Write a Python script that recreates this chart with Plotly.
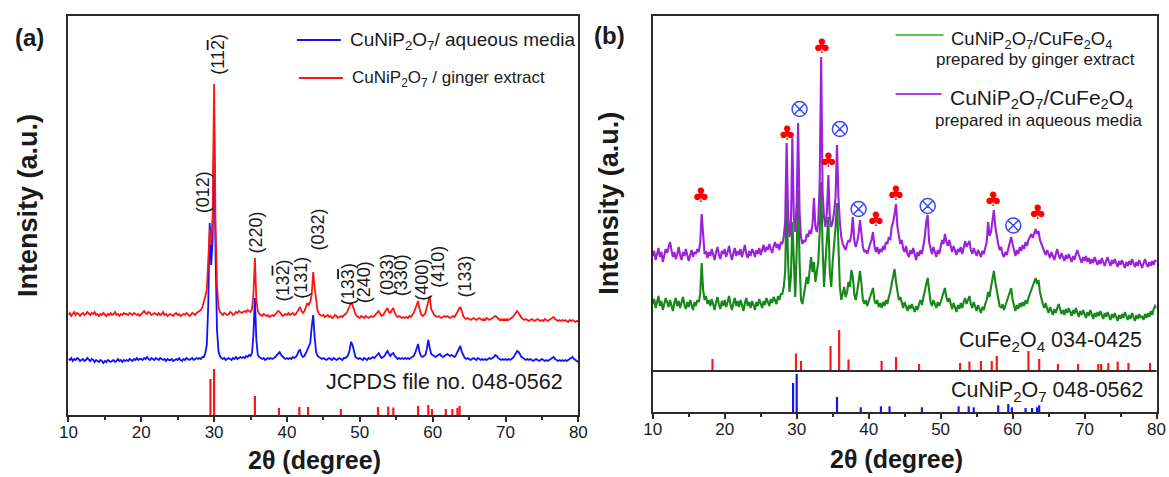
import plotly.graph_objects as go

# ---------------- data (2theta grid 10..80 step 0.2; intensities in arbitrary units) -------------
blue_a = [
56,55,57,54,56,55,57,56,54,55,
56,54,55,57,55,54,56,55,53,55,
54,53,55,54,52,54,53,55,54,53,
54,55,53,54,56,54,55,53,55,54,
55,54,56,55,54,56,55,57,55,56,
56,55,57,56,58,56,55,57,56,55,
57,56,55,57,56,55,56,54,56,55,
55,56,54,55,56,55,57,55,54,56,
55,57,56,55,56,57,55,56,57,56,
57,56,58,58,62,70,110,192,150,175,
287,160,85,64,59,57,56,57,55,56,
57,56,55,57,56,58,56,57,58,57,
58,57,59,58,60,59,62,80,117,75,
60,58,57,56,57,55,56,57,56,57,
56,57,58,60,62,63,60,58,57,56,
57,56,57,56,58,57,58,60,64,65,
60,58,59,62,66,69,72,88,100,78,
63,59,58,57,56,57,56,55,56,57,
56,55,57,56,55,56,57,56,55,57,
57,58,60,65,73,70,62,58,57,56,
57,56,55,57,56,55,57,56,57,58,
57,59,61,62,59,57,58,59,62,64,
61,59,61,62,59,57,56,57,56,57,
56,57,56,57,56,57,58,59,62,68,
71,63,59,58,59,60,66,75,67,61,
60,59,58,59,60,61,59,58,59,60,
61,60,59,60,59,58,60,63,67,69,
63,59,57,56,57,56,55,56,57,56,
55,57,56,55,56,55,56,55,56,57,
56,57,58,60,59,57,56,55,56,55,
56,55,56,55,56,57,59,62,64,63,
60,58,57,56,55,56,55,56,55,54,
55,56,55,54,55,56,55,54,55,54,
55,56,57,58,56,55,54,55,54,55,
54,55,54,55,56,57,58,56,55,54,
53]

red_a = [
100,102,99,101,103,100,102,101,99,101,
102,100,101,103,101,100,102,101,103,100,
101,99,101,100,102,100,99,101,100,102,
100,101,103,100,101,99,101,100,102,101,
101,100,102,101,100,102,101,100,101,99,
101,103,104,102,101,103,102,100,101,102,
101,100,102,100,101,103,100,101,99,100,
101,100,99,101,102,100,101,99,100,101,
100,102,101,99,100,102,101,100,102,103,
104,105,108,115,119,125,150,185,170,200,
331,190,130,108,103,101,100,102,101,100,
101,103,102,100,101,103,102,104,103,102,
103,104,103,105,104,103,106,120,157,115,
104,101,100,99,101,100,99,100,98,99,
100,99,101,102,104,103,101,99,100,101,
100,102,100,101,102,100,101,103,106,108,
104,102,104,108,112,110,113,120,143,128,
112,104,101,100,99,100,98,99,100,98,
99,97,98,100,99,97,98,99,98,100,
101,102,105,109,112,110,105,101,99,98,
97,99,98,97,99,98,97,98,99,98,
99,101,103,104,101,99,100,102,105,107,
103,102,105,107,102,99,98,99,98,97,
98,97,98,97,99,98,100,102,106,110,
114,106,101,99,100,102,108,116,119,106,
102,100,99,98,99,98,97,98,99,98,
99,98,97,98,99,98,100,103,106,108,
104,99,97,96,97,96,95,96,97,96,
95,96,97,96,95,96,95,97,96,95,
96,97,98,99,98,96,95,96,95,96,
95,96,95,96,97,98,100,102,104,102,
99,97,96,95,96,95,94,95,96,95,
94,95,96,95,94,95,94,96,95,94,
95,96,97,98,96,95,94,95,94,95,
94,95,94,93,95,94,95,94,93,94,
94]

purple_b = [
156,161,152,158,164,155,160,150,157,163,
159,166,170,162,155,160,153,158,165,157,
152,160,156,163,158,151,157,162,155,160,
158,163,160,170,198,172,158,161,154,160,
156,163,158,152,160,165,157,153,161,158,
163,155,160,166,158,152,159,164,156,161,
157,163,155,160,167,158,154,161,156,163,
160,155,162,158,164,157,161,167,160,165,
162,168,163,159,166,170,164,168,162,170,
168,175,190,269,200,175,185,274,195,180,
210,289,200,175,168,172,170,178,175,182,
178,188,214,185,180,190,230,355,220,195,
185,200,237,195,185,190,200,215,267,215,
190,175,168,165,162,168,172,170,178,195,
172,165,170,178,192,178,165,160,162,158,
164,168,172,180,166,160,165,158,163,160,
166,162,170,168,175,172,185,190,198,208,
185,175,168,172,163,160,166,158,155,162,
158,164,157,152,160,156,162,158,166,175,
190,197,170,162,158,165,160,155,162,158,
165,172,168,178,170,166,172,164,160,166,
162,157,163,160,165,158,164,171,165,168,
171,162,158,164,160,156,162,158,155,161,
158,164,170,190,176,180,192,202,185,175,
168,162,165,158,155,160,157,163,168,175,
168,160,156,162,158,165,161,167,163,170,
166,172,175,178,174,180,183,178,181,172,
168,163,160,157,162,158,154,160,156,152,
158,163,157,153,159,155,151,157,153,158,
154,150,156,152,158,162,157,153,149,155,
151,156,150,154,148,153,149,155,151,147,
152,148,154,150,146,151,155,150,146,152,
148,153,149,145,151,147,152,148,144,150,
146,151,147,153,149,145,150,146,152,148,
144,149,153,148,145,150,146,151,147,152,
150]

green_b = [
108,113,104,110,116,106,111,102,109,114,
110,105,112,107,101,109,114,106,111,104,
109,115,107,103,110,105,112,108,102,110,
106,112,110,118,149,122,112,116,108,112,
106,113,108,102,110,115,107,103,111,106,
112,105,110,116,108,102,109,114,106,111,
105,112,107,101,109,114,106,110,104,111,
107,102,110,106,113,108,104,111,107,114,
110,106,113,109,115,111,108,116,112,118,
118,125,140,215,150,120,135,190,160,115,
160,222,150,112,108,118,125,135,128,140,
155,140,150,130,138,150,180,230,165,125,
150,170,195,140,125,150,165,185,209,160,
125,112,118,125,115,120,130,125,142,135,
118,112,120,130,141,128,112,108,112,106,
110,114,118,124,112,108,112,105,109,104,
110,106,112,108,115,120,128,136,143,130,
118,112,115,108,104,110,106,101,107,103,
108,104,100,106,102,108,112,107,115,122,
128,134,118,110,106,112,108,104,110,106,
110,114,118,124,115,110,114,107,103,109,
105,100,107,103,109,104,110,114,108,112,
116,108,104,110,106,101,107,103,99,105,
102,108,112,120,115,125,133,141,130,122,
112,106,104,108,102,106,110,115,119,124,
112,106,101,107,103,109,105,110,106,112,
108,114,118,122,128,130,134,128,132,120,
112,108,104,109,103,99,105,101,97,103,
99,104,108,103,98,102,97,103,99,104,
100,96,102,98,104,100,95,101,97,102,
98,94,100,96,102,97,93,99,95,100,
96,101,97,93,99,95,100,96,92,98,
94,99,95,91,97,93,98,94,100,96,
92,97,93,99,95,91,97,93,98,94,
96,92,98,94,99,95,101,97,103,106,
104]

# reference sticks, CuNiP2O7 JCPDS 048-0562
cunip_pos = [29.5, 30.0, 35.6, 38.9, 41.7, 42.9, 47.4, 52.5, 53.9, 54.6, 58.0, 59.4, 59.9, 61.8, 62.7, 63.4, 63.7]
cunip_int_a = [36, 46, 19, 7, 8, 8, 6, 8, 8.5, 7.5, 9, 10, 6, 6, 6, 7, 9]
cunip_int_b = [29, 38, 15, 4.7, 5.7, 5.7, 4.7, 5.7, 5.7, 4.7, 6.7, 8, 4.7, 4, 4, 4.7, 6.7]
# CuFe2O4 JCPDS 034-0425
cufe_pos = [18.3, 29.9, 30.6, 34.7, 35.9, 37.2, 41.8, 43.8, 47.0, 52.7, 54.0, 55.6, 57.1, 57.8, 62.2, 63.7,
            66.3, 69.1, 71.9, 72.3, 73.3, 74.6, 76.1, 79.1]
cufe_int = [12, 17.5, 10, 25, 41, 11.5, 10, 14, 7, 8, 9.5, 10, 10, 15, 20, 12, 7, 7, 7, 7, 8, 9.5, 8, 8]

# phase markers in panel b
club_x = [16.7, 28.7, 33.5, 34.4, 41.0, 43.8, 57.3, 63.5]
club_y = [215, 277, 364, 250, 191.5, 217, 211, 198]
otimes_x = [30.4, 36.0, 38.6, 48.2, 60.1]
otimes_y = [303, 283, 203, 206, 186.5]

# Miller indices in panel a
OL = '<span style="text-decoration:overline">%s</span>'
hkl_text = ["(11" + OL % "2" + ")", "(012)", "(220)", "(13" + OL % "2" + ")", "(131)", "(032)",
            "(13" + OL % "3" + ")", "(240)", "(033)", "(330)", "(400)", "(410)", "(133)"]
hkl_x = [30.5, 28.5, 35.7, 39.4, 41.9, 44.2, 48.4, 50.6, 53.7, 55.7, 58.5, 60.7, 64.5]
hkl_y = [361, 223, 182, 134, 137, 185, 131, 133, 140, 140, 135, 148, 139]

tick_vals = [10, 20, 30, 40, 50, 60, 70, 80]

# ---------------- figure ----------------
W, H = 1169, 477
FONT = "Liberation Sans, Arial, sans-serif"
AX = "#2b2b2b"
TXT = "#1a1a1a"
# horizontal calibration of the rendered page (measured on earlier renders)
SX, OX = 0.985, 8.0


def PX(x):
    return ((x - OX) / SX) / W


def PY(y):
    return 1 - y / H


def grid(vals):
    return [round(10 + 0.2 * i, 2) for i in range(len(vals))]


RED = "#ff1414"
BLUE = "#1010ff"
PURPLE = "#9b22d8"
GREEN = "#17881a"

fig = go.Figure()
fig.add_trace(go.Scatter(x=grid(blue_a), y=blue_a, mode="lines", line=dict(color=BLUE, width=1.8),
                         xaxis="x", yaxis="y"))
fig.add_trace(go.Scatter(x=grid(red_a), y=red_a, mode="lines", line=dict(color=RED, width=1.8),
                         xaxis="x", yaxis="y"))
fig.add_trace(go.Bar(x=cunip_pos, y=cunip_int_a, base=0, width=0.3, marker=dict(color=RED, line=dict(width=0)),
                     xaxis="x", yaxis="y"))

fig.add_trace(go.Scatter(x=grid(green_b), y=green_b, mode="lines", line=dict(color=GREEN, width=2.1),
                         xaxis="x2", yaxis="y2"))
fig.add_trace(go.Scatter(x=grid(purple_b), y=purple_b, mode="lines", line=dict(color=PURPLE, width=2.1),
                         xaxis="x2", yaxis="y2"))
fig.add_trace(go.Bar(x=cufe_pos, y=cufe_int, base=41, width=0.3, marker=dict(color=RED, line=dict(width=0)),
                     xaxis="x2", yaxis="y2"))
fig.add_trace(go.Bar(x=cunip_pos, y=cunip_int_b, base=0, width=0.3, marker=dict(color=BLUE, line=dict(width=0)),
                     xaxis="x2", yaxis="y2"))
fig.add_trace(go.Scatter(x=club_x, y=club_y, mode="text", text=["\u2663"] * len(club_x),
                         textposition="middle center",
                         textfont=dict(family="DejaVu Sans", size=20, color="#ff0000"),
                         xaxis="x2", yaxis="y2"))
fig.add_trace(go.Scatter(x=otimes_x, y=otimes_y, mode="markers",
                         marker=dict(symbol="circle-x-open", size=15, color="#3a4bff", line=dict(width=1.5)),
                         xaxis="x2", yaxis="y2"))

xcommon = dict(range=[10, 80], tickvals=tick_vals, ticks="outside", ticklen=5, tickwidth=2, tickcolor=AX,
               showline=True, linecolor=AX, linewidth=2, mirror=True, showgrid=False, zeroline=False,
               ticklabelstandoff=-4,
               tickfont=dict(family=FONT, size=17, color=TXT),
               minor=dict(dtick=5, tick0=10, ticks="outside", ticklen=3, tickwidth=1.5, tickcolor=AX))
ycommon = dict(showline=True, linecolor=AX, linewidth=2, mirror=True, showgrid=False, zeroline=False,
               showticklabels=False, ticks="")

fig.update_layout(
    width=W, height=H, autosize=False, margin=dict(l=0, r=0, t=0, b=0, pad=0),
    paper_bgcolor="white", plot_bgcolor="white", showlegend=False, barmode="overlay",
    xaxis=dict(domain=[PX(67.4), PX(577.6)], anchor="y", **xcommon),
    yaxis=dict(domain=[PY(415), PY(16)], range=[0, 399], anchor="x", **ycommon),
    xaxis2=dict(domain=[PX(652), PX(1156)], anchor="y2", **xcommon),
    yaxis2=dict(domain=[PY(412), PY(16)], range=[0, 396], anchor="x2", **ycommon),
)

# separator between reference patterns (panel b)
fig.add_shape(type="line", xref="x2 domain", yref="y2", x0=0, x1=1, y0=41, y1=41,
              line=dict(color=AX, width=2))

# legend samples
for (x0, x1, y, c) in [(296, 340, 40, BLUE), (298, 342, 78, RED), (895, 943, 35, "#55c855"), (895, 941, 94, "#b43ee8")]:
    fig.add_shape(type="line", xref="paper", yref="paper", x0=PX(x0), x1=PX(x1), y0=PY(y), y1=PY(y),
                  line=dict(color=c, width=2))

ann = []


def text(x, y, s, size, bold=False, xanchor="center", angle=0, xref="paper", yref="paper"):
    if xref == "paper":
        x = PX(x)
    if yref == "paper":
        y = PY(y)
    ann.append(dict(x=x, y=y, xref=xref, yref=yref, text=("<b>%s</b>" % s) if bold else s, showarrow=False,
                    xanchor=xanchor, yanchor="middle", textangle=angle,
                    font=dict(family=FONT, size=size, color=TXT)))


text(29, 37, "(a)", 24, bold=True)
text(609, 36, "(b)", 24, bold=True)
text(27, 205, "Intensity (a.u.)", 27, bold=True, angle=-90)
text(608, 203, "Intensity (a.u.)", 27, bold=True, angle=-90)
text(314, 460, "2\u03b8 (degree)", 25, bold=True)
text(896, 459, "2\u03b8 (degree)", 25, bold=True)

text(347, 41, "CuNiP<sub>2</sub>O<sub>7</sub>/ aqueous media", 19, xanchor="left")
text(349, 79, "CuNiP<sub>2</sub>O<sub>7</sub> / ginger extract", 17, xanchor="left")
text(948, 40, "CuNiP<sub>2</sub>O<sub>7</sub>/CuFe<sub>2</sub>O<sub>4</sub>", 18.5, xanchor="left")
text(933, 60, "prepared by ginger extract", 17, xanchor="left")
text(947, 99, "CuNiP<sub>2</sub>O<sub>7</sub>/CuFe<sub>2</sub>O<sub>4</sub>", 21, xanchor="left")
text(932, 121, "prepared in aqueous media", 17, xanchor="left")

text(564, 382, "JCPDS file no. 048-0562", 21.5, xanchor="right")
text(1143, 341, "CuFe<sub>2</sub>O<sub>4</sub> 034-0425", 21.5, xanchor="right")
text(1144, 391, "CuNiP<sub>2</sub>O<sub>7</sub> 048-0562", 21.5, xanchor="right")

for s, hx, hy in zip(hkl_text, hkl_x, hkl_y):
    text(hx, hy, s, 18, angle=-90, xref="x", yref="y")

fig.update_layout(annotations=ann)

fig.write_html("out.html", config={"displayModeBar": False, "responsive": False},
               post_script="document.body.style.margin='0';")
